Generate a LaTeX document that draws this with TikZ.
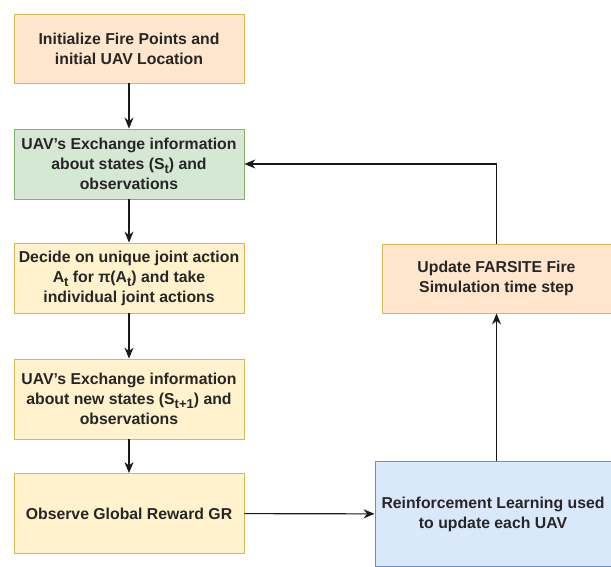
\documentclass[tikz,border=0pt]{standalone}
\usepackage{fontspec}
\setmainfont{Liberation Sans}
\usetikzlibrary{arrows.meta}
\definecolor{orangefill}{HTML}{FFE6CC}
\definecolor{yellowfill}{HTML}{FFF2CC}
\definecolor{yellowline}{HTML}{D6B656}
\definecolor{greenfill}{HTML}{D5E8D4}
\definecolor{greenline}{HTML}{82B366}
\definecolor{bluefill}{HTML}{DAE8FC}
\definecolor{blueline}{HTML}{6C8EBF}
\newcommand{\lowsub}[1]{\raisebox{-0.5ex}{\fontsize{13}{13}\selectfont #1}}
\newcommand{\uavs}{UAV\char"0027 s}
\begin{document}
\begin{tikzpicture}[x=1pt,y=1pt]

    \tikzset{
      stepbox/.style={
        draw=yellowline,
        fill=yellowfill,
        line width=0.9pt,
        align=center,
        inner sep=0pt,
        minimum width=230pt,
        minimum height=70pt,
        font=\fontsize{15.8}{20}\selectfont\bfseries,
        text=black!85,
      },
      orangebox/.style={stepbox, fill=orangefill},
      greenbox/.style={stepbox, fill=greenfill, draw=greenline},
      bluebox/.style={stepbox, fill=bluefill, draw=blueline},
      flow/.style={line width=1.1pt, black!90, -{Stealth[length=11pt,width=9pt]}},
    }
    \useasboundingbox (0,0) rectangle (611,-567);
	\node[orangebox, minimum height=69pt] (init) at (129,-48.5) {Initialize Fire Points and\\initial UAV Location};
	\node[greenbox] (share) at (129,-164) {\uavs{} Exchange information\\about states (S\lowsub{t}) and\\observations};
	\node[stepbox] (decide) at (129,-278) {Decide on unique joint action\\A\lowsub{t} for π(A\lowsub{t}) and take\\individual joint actions};
	\node[stepbox, minimum height=80pt] (sharenew) at (129,-399) {\uavs{} Exchange information\\about new states (S\lowsub{t+1}) and\\observations};
	\node[stepbox, minimum height=80pt] (observe) at (129,-513.5) {Observe Global Reward GR};
	\node[bluebox, minimum width=236pt, minimum height=105pt] (learn) at (493,-514) {Reinforcement Learning used\\to update each UAV};
	\node[orangebox, minimum width=229pt, minimum height=69pt] (update) at (496.5,-278.5) {Update FARSITE Fire\\Simulation time step};

	\draw[flow] (init) -- (share);
	\draw[flow] (share) -- (decide);
	\draw[flow] (decide) -- (sharenew);
	\draw[flow] (sharenew) -- (observe);
	\draw[flow] (observe) -- (learn);
	\draw[flow] (update.south |- learn.north) -- (update.south);
	\draw[flow] (update.north) |- (share.east);

\end{tikzpicture}
\end{document}
